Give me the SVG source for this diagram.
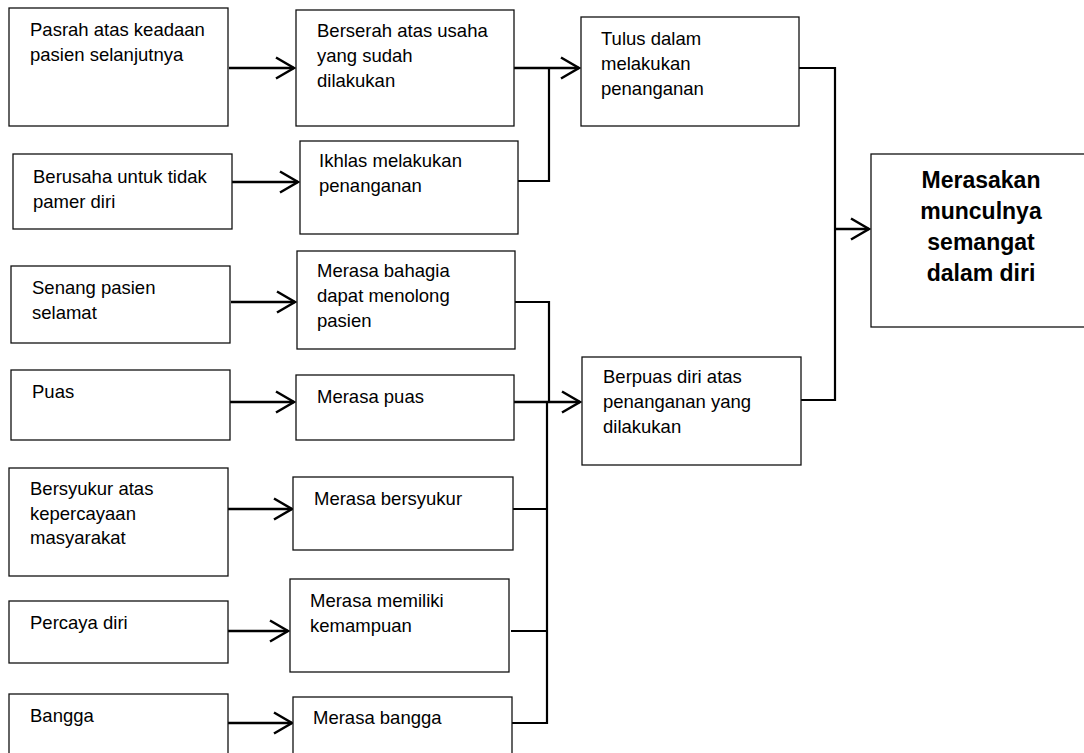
<svg xmlns="http://www.w3.org/2000/svg" width="1084" height="753" viewBox="0 0 1084 753">
<style>
.box{fill:#fff;stroke:#111;stroke-width:1.3}
.t{font-family:"Liberation Sans",Arial,sans-serif;font-size:18.5px;fill:#000}
.b{font-family:"Liberation Sans",Arial,sans-serif;font-size:23px;font-weight:bold;fill:#000;text-anchor:middle}
.c{fill:none;stroke:#000;stroke-width:2.2}
.a{fill:none;stroke:#000;stroke-width:2.5;marker-end:url(#arr)}
</style>
<defs>
<marker id="arr" markerUnits="userSpaceOnUse" markerWidth="22" markerHeight="24" refX="19" refY="11" orient="auto" overflow="visible">
<path d="M1,0.5 L19,11 L1,21.5" fill="none" stroke="#000" stroke-width="2.5"/>
</marker>
</defs>
<rect width="1084" height="753" fill="#fff"/>
<g id="connectors">
<line class="a" x1="229" y1="68" x2="294" y2="68"/>
<line class="a" x1="232" y1="182" x2="298" y2="182"/>
<line class="a" x1="514" y1="68" x2="579" y2="68"/>
<polyline class="c" points="516,181 549,181 549,68"/>
<polyline class="c" points="799,68 835,68 835,400 801,400"/>
<line class="a" x1="835" y1="229" x2="869" y2="229"/>
<line class="a" x1="231" y1="302" x2="295" y2="302"/>
<line class="a" x1="230" y1="402" x2="294" y2="402"/>
<polyline class="c" points="515,302 549,302 549,402"/>
<line class="a" x1="514" y1="402" x2="580" y2="402"/>
<line class="a" x1="228" y1="509" x2="292" y2="509"/>
<line class="c" x1="513" y1="509" x2="547" y2="509"/>
<line class="a" x1="228" y1="631" x2="288" y2="631"/>
<line class="c" x1="511" y1="631" x2="547" y2="631"/>
<line class="a" x1="228" y1="723" x2="292" y2="723"/>
<line class="c" x1="512" y1="723" x2="548" y2="723"/>
<line class="c" x1="547" y1="401" x2="547" y2="724"/>
</g>
<g id="n-pasrah"><rect class="box" x="9" y="8" width="219" height="118"/><text class="t" x="30" y="36">Pasrah atas keadaan</text><text class="t" x="30" y="61">pasien selanjutnya</text></g>
<g id="n-berserah"><rect class="box" x="296" y="10" width="218" height="116"/><text class="t" x="317" y="37">Berserah atas usaha</text><text class="t" x="317" y="62">yang sudah</text><text class="t" x="317" y="87">dilakukan</text></g>
<g id="n-tulus"><rect class="box" x="581" y="17" width="218" height="109"/><text class="t" x="601" y="45">Tulus dalam</text><text class="t" x="601" y="70">melakukan</text><text class="t" x="601" y="95">penanganan</text></g>
<g id="n-berusaha"><rect class="box" x="13" y="154" width="219" height="75"/><text class="t" x="33" y="183">Berusaha untuk tidak</text><text class="t" x="33" y="208">pamer diri</text></g>
<g id="n-ikhlas"><rect class="box" x="300" y="141" width="218" height="93"/><text class="t" x="319" y="167">Ikhlas melakukan</text><text class="t" x="319" y="192">penanganan</text></g>
<g id="n-merasakan"><rect class="box" x="871" y="154" width="225" height="173"/><text class="b" x="981" y="188">Merasakan</text><text class="b" x="981" y="219">munculnya</text><text class="b" x="981" y="250">semangat</text><text class="b" x="981" y="281">dalam diri</text></g>
<g id="n-senang"><rect class="box" x="11" y="266" width="219" height="77"/><text class="t" x="32" y="294">Senang pasien</text><text class="t" x="32" y="319">selamat</text></g>
<g id="n-bahagia"><rect class="box" x="297" y="251" width="218" height="98"/><text class="t" x="317" y="277">Merasa bahagia</text><text class="t" x="317" y="302">dapat menolong</text><text class="t" x="317" y="327">pasien</text></g>
<g id="n-puas"><rect class="box" x="11" y="370" width="219" height="70"/><text class="t" x="32" y="398">Puas</text></g>
<g id="n-merasapuas"><rect class="box" x="296" y="375" width="218" height="65"/><text class="t" x="317" y="403">Merasa puas</text></g>
<g id="n-berpuas"><rect class="box" x="582" y="357" width="219" height="108"/><text class="t" x="603" y="383">Berpuas diri atas</text><text class="t" x="603" y="408">penanganan yang</text><text class="t" x="603" y="433">dilakukan</text></g>
<g id="n-bersyukur"><rect class="box" x="9" y="468" width="219" height="108"/><text class="t" x="30" y="495">Bersyukur atas</text><text class="t" x="30" y="520">kepercayaan</text><text class="t" x="30" y="544">masyarakat</text></g>
<g id="n-merasabersyukur"><rect class="box" x="293" y="477" width="220" height="73"/><text class="t" x="314" y="505">Merasa bersyukur</text></g>
<g id="n-percaya"><rect class="box" x="9" y="601" width="219" height="62"/><text class="t" x="30" y="629">Percaya diri</text></g>
<g id="n-memiliki"><rect class="box" x="290" y="579" width="219" height="93"/><text class="t" x="310" y="607">Merasa memiliki</text><text class="t" x="310" y="632">kemampuan</text></g>
<g id="n-bangga"><rect class="box" x="9" y="694" width="219" height="70"/><text class="t" x="30" y="722">Bangga</text></g>
<g id="n-merasabangga"><rect class="box" x="293" y="697" width="219" height="70"/><text class="t" x="313" y="724">Merasa bangga</text></g>
</svg>
